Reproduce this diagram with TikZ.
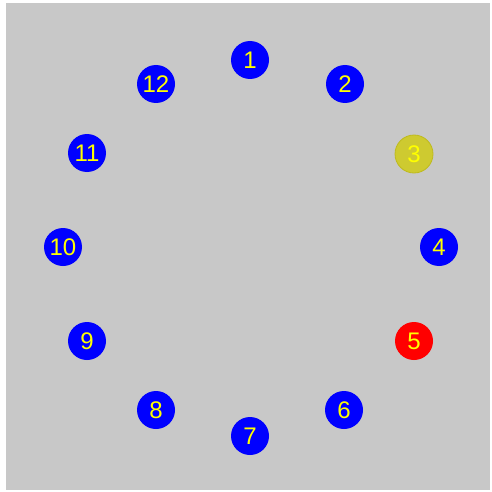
\documentclass[tikz,border=0pt]{standalone}
\usepackage{fontspec}
\setmainfont{Liberation Sans}
\definecolor{bg}{RGB}{200,200,200}
\definecolor{ballblue}{RGB}{0,0,255}
\definecolor{ballred}{RGB}{255,0,0}
\definecolor{ballolive}{RGB}{206,202,48}
\definecolor{olivedge}{RGB}{190,186,30}
\definecolor{numyellow}{RGB}{255,255,0}
\begin{document}
\begin{tikzpicture}[x=1pt,y=-1pt,
  ball/.style={circle,minimum size=38pt,inner sep=0pt,fill=ballblue,text=numyellow,font=\fontsize{24pt}{24pt}\selectfont},
  redball/.style={ball,fill=ballred},
  oliveball/.style={ball,fill=ballolive,draw=olivedge,line width=0.8pt}]
\useasboundingbox (0,0) rectangle (491,492);
\fill[white] (0,0) rectangle (491,492);
\fill[bg] (6,3) rectangle (490,490);
\node[ball] (c1) at (250,60) {1};
\node[ball] (c2) at (345,84) {2};
\node[oliveball] (c3) at (414,154) {3};
\node[ball] (c4) at (439,247) {4};
\node[redball] (c5) at (414,341) {5};
\node[ball] (c6) at (344,410) {6};
\node[ball] (c7) at (250,436) {7};
\node[ball] (c8) at (156,410) {8};
\node[ball] (c9) at (87,341) {9};
\node[ball] (c10) at (63,247) {10};
\node[ball] (c11) at (87,153) {11};
\node[ball] (c12) at (156,84) {12};
\end{tikzpicture}
\end{document}
